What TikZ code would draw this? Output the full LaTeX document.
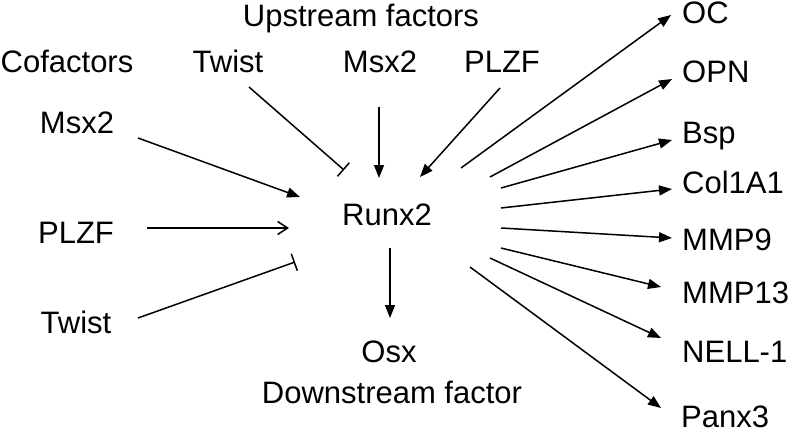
\documentclass[tikz,border=0pt]{standalone}
\usepackage{fontspec}
\setmainfont{Liberation Sans}
\usetikzlibrary{arrows.meta}
\begin{document}
\begin{tikzpicture}[x=1pt,y=1pt]
\tikzstyle{every node}+=[inner sep=0pt]
\tikzstyle{lbl}=[font=\fontsize{31}{37}\selectfont,anchor=base]
\tikzstyle{gene}=[lbl,anchor=base west]
\tikzstyle{act}=[black,line width=1.5pt,-{Triangle[length=13pt,width=10pt]}]
\tikzstyle{opn}=[black,line width=1.5pt,-{Straight Barb[length=10pt,width=13pt,line width=1.5pt]}]
\tikzstyle{inh}=[black,line width=1.5pt,-{Bar[width=18pt,line width=1.5pt]}]
\useasboundingbox (0,0) rectangle (792,432);
\node [lbl] (upstream) at (361,405) {Upstream factors};
\node [lbl] (cofactors) at (67,359) {Cofactors};
\node [lbl] (twist-up) at (228,359) {Twist};
\node [lbl] (msx-up) at (380,359) {Msx2};
\node [lbl] (plzf-up) at (502,359) {PLZF};
\node [lbl] (msx-co) at (77,299) {Msx2};
\node [lbl] (runx) at (387,207) {Runx2};
\node [lbl] (plzf-co) at (76,189) {PLZF};
\node [lbl] (twist-co) at (76,99) {Twist};
\node [lbl] (osx) at (389,70) {Osx};
\node [lbl] (downstream) at (392,29) {Downstream factor};
\node [gene] (oc) at (682,408) {OC};
\node [gene] (opn) at (682,349) {OPN};
\node [gene] (bsp) at (682,289) {Bsp};
\node [gene] (col) at (682,239) {Col1A1};
\node [gene] (mmp9) at (682,182) {MMP9};
\node [gene] (mmp13) at (682,129) {MMP13};
\node [gene] (nell) at (682,70) {NELL-1};
\node [gene] (panx) at (681,5) {Panx3};
\coordinate (twist-up-s) at (249,345);
\coordinate (twist-up-e) at (344,262);
\coordinate (msx-up-s) at (379,325);
\coordinate (msx-up-e) at (379,254);
\coordinate (plzf-up-s) at (500,344);
\coordinate (plzf-up-e) at (420,255);
\coordinate (msx-co-s) at (138,294);
\coordinate (msx-co-e) at (300,235);
\coordinate (plzf-co-s) at (147,204);
\coordinate (plzf-co-e) at (289,204);
\coordinate (twist-co-s) at (138,114);
\coordinate (twist-co-e) at (295,170);
\coordinate (osx-s) at (390,184);
\coordinate (osx-e) at (390,114);
\coordinate (oc-s) at (461,264);
\coordinate (oc-e) at (671,417);
\coordinate (opn-s) at (490,255);
\coordinate (opn-e) at (672,353);
\coordinate (bsp-s) at (501,244);
\coordinate (bsp-e) at (672,292);
\coordinate (col-s) at (501,224);
\coordinate (col-e) at (672,243);
\coordinate (mmp9-s) at (501,204);
\coordinate (mmp9-e) at (672,194);
\coordinate (mmp13-s) at (501,184);
\coordinate (mmp13-e) at (661,145);
\coordinate (nell-s) at (490,174);
\coordinate (nell-e) at (661,94);
\coordinate (panx-s) at (470,165);
\coordinate (panx-e) at (661,24);
\draw [inh] (twist-up-s) -- (twist-up-e);
\draw [act] (msx-up-s) -- (msx-up-e);
\draw [act] (plzf-up-s) -- (plzf-up-e);
\draw [act] (msx-co-s) -- (msx-co-e);
\draw [opn] (plzf-co-s) -- (plzf-co-e);
\draw [inh] (twist-co-s) -- (twist-co-e);
\draw [act] (osx-s) -- (osx-e);
\draw [act] (oc-s) -- (oc-e);
\draw [act] (opn-s) -- (opn-e);
\draw [act] (bsp-s) -- (bsp-e);
\draw [act] (col-s) -- (col-e);
\draw [act] (mmp9-s) -- (mmp9-e);
\draw [act] (mmp13-s) -- (mmp13-e);
\draw [act] (nell-s) -- (nell-e);
\draw [act] (panx-s) -- (panx-e);
\end{tikzpicture}
\end{document}
